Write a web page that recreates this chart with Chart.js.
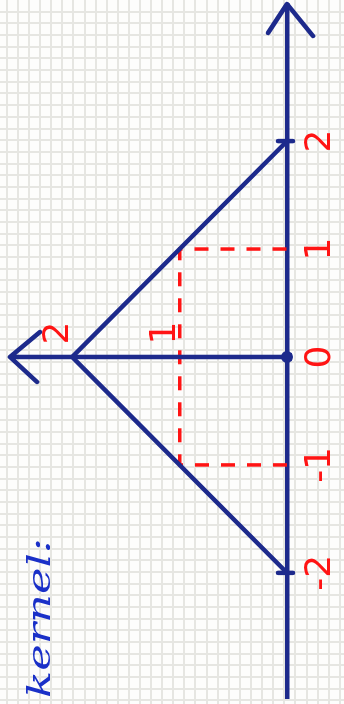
<!DOCTYPE html>
<html>
<head>
<meta charset="utf-8">
<script src="https://cdn.jsdelivr.net/npm/chart.js@4.4.1/dist/chart.umd.min.js"></script>
<style>
  html, body { margin: 0; padding: 0; background: #fdfdfc; }
  body { width: 344px; height: 704px; overflow: hidden; position: relative; }
  #paper { position: absolute; left: 0; top: 0; }
  /* the sketch is drawn on its side: build it flat, then turn it */
  #sheet {
    position: absolute; left: 0; top: 0;
    width: 704px; height: 344px;
    transform-origin: 0 0;
    transform: translate(0, 704px) rotate(-90deg);
  }
</style>
</head>
<body>
<canvas id="paper" width="344" height="704"></canvas>
<div id="sheet"><canvas id="kernelChart" width="704" height="344"></canvas></div>
<script>
// Triangular kernel sketch

const tValues = [-2, 0, 2];
const kernelValues = [0, 2, 0];
const guideT = [-1, -1, 1, 1];
const guideK = [0, 1, 1, 0];
const tickValues = [-2, -1, 0, 1, 2];
const tickLabels = ["-2", "-1", "0", "1", "2"];
const kernelTicks = [2, 1];
const kernelTickLabels = ["2", "1"];
const caption = "kernel:";

const ink = "#1d2a8c";
const red = "#ff1414";
const pen = "#1a30c8";

// squared paper behind the sketch
(function drawPaper() {
  const p = document.getElementById("paper").getContext("2d");
  p.fillStyle = "#fdfdfc";
  p.fillRect(0, 0, 344, 704);
  p.fillStyle = "#e6e6e2";
  for (let gx = 5.8; gx < 344; gx += 11.1) p.fillRect(Math.round(gx), 0, 2, 704);
  for (let gy = 10.8; gy < 704; gy += 11.67) p.fillRect(0, Math.round(gy), 344, 2);
})();

const sketchExtras = {
  id: "sketchExtras",
  afterDatasetsDraw(chart) {
    const { ctx, chartArea, scales: { x, y } } = chart;
    const x0 = x.getPixelForValue(0);
    const yb = y.getPixelForValue(0);
    ctx.save();
    ctx.strokeStyle = ink;
    ctx.fillStyle = ink;
    ctx.lineWidth = 4.5;
    ctx.lineCap = "round";
    ctx.lineJoin = "round";

    // kernel axis + arrow
    ctx.beginPath();
    ctx.moveTo(x0, yb);
    ctx.lineTo(x0, chartArea.top);
    ctx.moveTo(x0 - 25, chartArea.top + 27);
    ctx.lineTo(x0, chartArea.top);
    ctx.lineTo(x0 + 25, chartArea.top + 30);
    // t axis arrow
    ctx.moveTo(chartArea.right - 29, yb - 19);
    ctx.lineTo(chartArea.right, yb);
    ctx.lineTo(chartArea.right - 32, yb + 26);
    // little marks at the ends of the support
    [tValues[0], tValues[tValues.length - 1]].forEach(v => {
      const px = x.getPixelForValue(v);
      ctx.moveTo(px, yb - 9);
      ctx.lineTo(px, yb + 6);
    });
    ctx.stroke();

    ctx.beginPath();
    ctx.arc(x0, yb, 6, 0, Math.PI * 2);
    ctx.fill();

    // kernel height labels
    ctx.fillStyle = red;
    ctx.font = '36px "DejaVu Sans"';
    ctx.textAlign = "center";
    ctx.textBaseline = "middle";
    kernelTicks.forEach((v, i) => {
      ctx.fillText(kernelTickLabels[i], x0 + 24, y.getPixelForValue(v) - 14);
    });

    // caption, stretched a little like the handwriting
    ctx.fillStyle = pen;
    ctx.font = 'italic 32px "DejaVu Serif"';
    ctx.textAlign = "left";
    ctx.textBaseline = "alphabetic";
    ctx.translate(6, 50);
    ctx.scale(1.4, 1);
    ctx.fillText(caption, 0, 0);
    ctx.restore();
  }
};

const canvas = document.getElementById("kernelChart");
new Chart(canvas, {
  type: "scatter",
  data: {
    datasets: [
      {
        label: "kernel",
        data: tValues.map((t, i) => ({ x: t, y: kernelValues[i] })),
        showLine: true,
        borderColor: ink,
        borderWidth: 4.5,
        pointRadius: 0,
        tension: 0
      },
      {
        label: "guide",
        data: guideT.map((t, i) => ({ x: t, y: guideK[i] })),
        showLine: true,
        borderColor: red,
        borderWidth: 3.5,
        borderDash: [14, 12],
        pointRadius: 0,
        tension: 0
      }
    ]
  },
  options: {
    responsive: false,
    devicePixelRatio: 1,
    animation: false,
    layout: { padding: { left: 7, right: 4, top: 10, bottom: 0 } },
    plugins: {
      legend: { display: false },
      tooltip: { enabled: false }
    },
    scales: {
      x: {
        type: "linear",
        min: -3.15,
        max: 3.27,
        afterBuildTicks: scale => { scale.ticks = tickValues.map(v => ({ value: v })); },
        afterFit: scale => { scale.height = 57; },
        grid: { display: false, drawTicks: false },
        border: { display: true, color: ink, width: 4.5 },
        ticks: {
          color: red,
          padding: 12,
          font: { family: "DejaVu Sans", size: 36 },
          callback: v => tickLabels[tickValues.indexOf(v)]
        }
      },
      y: {
        type: "linear",
        min: 0,
        max: 2.58,
        display: false
      }
    }
  },
  plugins: [sketchExtras]
});
</script>
</body>
</html>
